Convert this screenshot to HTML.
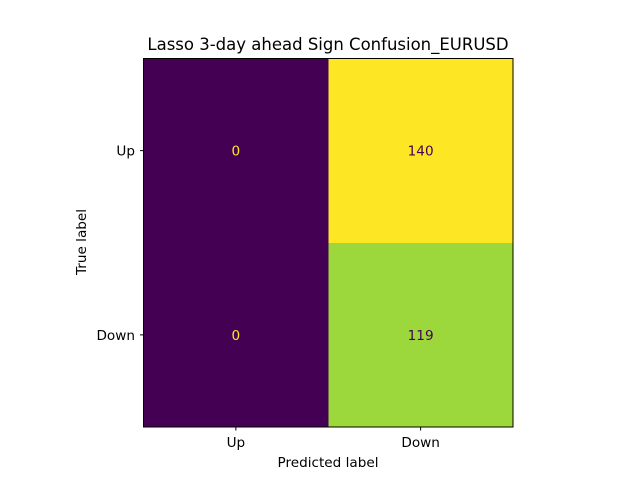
<!DOCTYPE html>
<html><head><meta charset="utf-8"><style>
body{margin:0;background:#fff;}
svg{display:block;font-family:"DejaVu Sans","Liberation Sans",sans-serif;}
</style></head><body>
<svg id="chart" width="640" height="480">
<text x="328" y="50" text-anchor="middle" font-size="16.5" fill="#000">Lasso 3-day ahead Sign Confusion_EURUSD</text>
<g id="cells" shape-rendering="crispEdges"></g>
<rect x="143.5" y="58.5" width="369.5" height="368.5" fill="none" stroke="#000" stroke-width="1"/>
<g id="ticks"></g>
<text x="328" y="467" text-anchor="middle" font-size="13.6">Predicted label</text>
<text transform="translate(86,242) rotate(-90)" text-anchor="middle" font-size="13.6">True label</text>
</svg>
<script>
const predLabels=["Up","Down"];
const trueLabels=["Up","Down"];
const counts=[[0,140],[0,119]];
const viridis=[[68,1,84],[72,40,120],[62,74,137],[49,104,142],[38,130,142],[31,158,137],[53,183,121],[110,206,88],[181,222,43],[253,231,37]];
function cmap(t){t=Math.max(0,Math.min(1,t));const p=t*(viridis.length-1);const i=Math.min(Math.floor(p),viridis.length-2);const f=p-i;const a=viridis[i],b=viridis[i+1];return `rgb(${a.map((v,k)=>Math.round(v+(b[k]-v)*f)).join(',')})`;}
const X0=143.5,Y0=58.5,W=369.5,H=368.5;
const cw=W/predLabels.length,ch=H/trueLabels.length;
const xs=j=>X0+j*cw, ys=i=>Y0+i*ch;
const ns="http://www.w3.org/2000/svg";
const flat=counts.flat();const mn=Math.min(...flat),mx=Math.max(...flat);
const cells=document.getElementById('cells'),ticks=document.getElementById('ticks');
counts.forEach((row,i)=>row.forEach((v,j)=>{
 const t=(v-mn)/(mx-mn||1);
 const r=document.createElementNS(ns,'rect');
 r.setAttribute('x',xs(j));r.setAttribute('y',ys(i));r.setAttribute('width',cw+0.5);r.setAttribute('height',ch+0.5);r.setAttribute('fill',cmap(t));
 
 
 cells.appendChild(r);
 const tx=document.createElementNS(ns,'text');
 tx.setAttribute('x',xs(j)+cw/2);tx.setAttribute('y',ys(i)+ch/2+5);tx.setAttribute('text-anchor','middle');tx.setAttribute('font-size','13.6');
 tx.setAttribute('fill',t<0.5?cmap(1):cmap(0));tx.textContent=v;
 
 
 cells.appendChild(tx);
}));
predLabels.forEach((l,j)=>{
 const x=xs(j)+cw/2;
 const ln=document.createElementNS(ns,'line');ln.setAttribute('x1',x);ln.setAttribute('x2',x);ln.setAttribute('y1',427);ln.setAttribute('y2',430.5);ln.setAttribute('stroke','#000');
 
 
 ticks.appendChild(ln);
 const t=document.createElementNS(ns,'text');t.setAttribute('x',x);t.setAttribute('y',447);t.setAttribute('text-anchor','middle');t.setAttribute('font-size','13.6');t.textContent=l;
 
 
 ticks.appendChild(t);
});
trueLabels.forEach((l,i)=>{
 const y=ys(i)+ch/2;
 const ln=document.createElementNS(ns,'line');ln.setAttribute('x1',140);ln.setAttribute('x2',143.5);ln.setAttribute('y1',y);ln.setAttribute('y2',y);ln.setAttribute('stroke','#000');
 
 
 ticks.appendChild(ln);
 const t=document.createElementNS(ns,'text');t.setAttribute('x',135);t.setAttribute('y',y+5);t.setAttribute('text-anchor','end');t.setAttribute('font-size','13.6');t.textContent=l;
 
 
 ticks.appendChild(t);
});
</script>
</body></html>
